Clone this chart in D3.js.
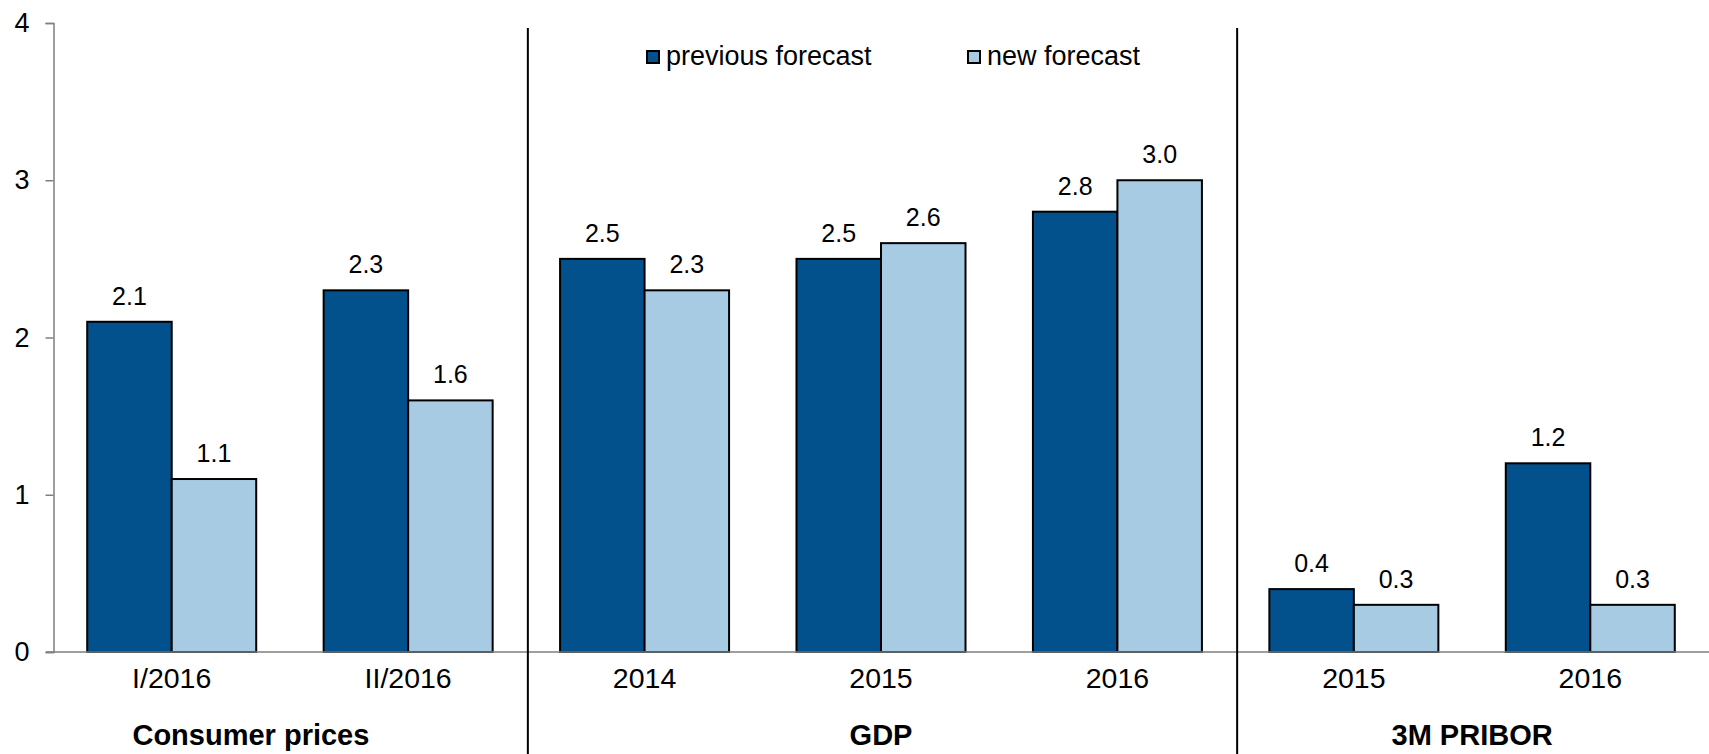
<!DOCTYPE html>
<html>
<head>
<meta charset="utf-8">
<script src="https://cdn.jsdelivr.net/npm/d3@7/dist/d3.min.js"></script>
<style>
  html, body { margin: 0; padding: 0; background: #fff; }
  svg { display: block; font-family: "Liberation Sans", Arial, sans-serif; }
</style>
</head>
<body>
<svg id="chart" width="1709" height="754"></svg>
<script>
// Forecast comparison: consumer prices, GDP and 3M PRIBOR
const categories = ["I/2016", "II/2016", "2014", "2015", "2016", "2015", "2016"];
const previousForecast = [2.1, 2.3, 2.5, 2.5, 2.8, 0.4, 1.2];
const newForecast = [1.1, 1.6, 2.3, 2.6, 3.0, 0.3, 0.3];
const seriesNames = ["previous forecast", "new forecast"];
const groupNames = ["Consumer prices", "GDP", "3M PRIBOR"];
const groupSizes = [2, 3, 2];
const yTicks = [0, 1, 2, 3, 4];

const colors = ["#02518C", "#A6CBE3"];
const svg = d3.select("#chart");

const plotLeft = 53.5, plotRight = 1708.5, plotTop = 23, plotBottom = 652;

const x = d3.scaleBand()
  .domain(d3.range(categories.length))
  .range([plotLeft, plotRight])
  .padding(0);

const y = d3.scaleLinear().domain([0, 4]).range([plotBottom, plotTop]);

const step = x.bandwidth();
const barW = 84.5;
const xs = d3.scaleBand()
  .domain([0, 1])
  .range([step / 2 - barW, step / 2 + barW])
  .padding(0);

const rows = categories.map((c, i) => ({
  i, cat: c, values: [previousForecast[i], newForecast[i]]
}));

// y axis
const yAxis = d3.axisLeft(y).tickValues(yTicks).tickSize(8).tickPadding(16).tickFormat(d3.format("d"));
const yg = svg.append("g").attr("transform", `translate(${plotLeft},0)`).call(yAxis);
yg.select(".domain").attr("stroke", "#7f7f7f").attr("stroke-width", 1.5);
yg.selectAll(".tick line").attr("stroke", "#7f7f7f").attr("stroke-width", 1.5);
yg.selectAll(".tick text").attr("font-size", 27).attr("fill", "#000")
  .attr("font-family", "Liberation Sans, Arial, sans-serif");

// bars
const grp = svg.append("g").selectAll("g").data(rows).join("g")
  .attr("transform", d => `translate(${x(d.i)},0)`);

grp.selectAll("rect").data(d => d.values.map((v, s) => ({ v, s }))).join("rect")
  .attr("x", d => xs(d.s))
  .attr("y", d => y(d.v))
  .attr("width", xs.bandwidth())
  .attr("height", d => y(0) - y(d.v))
  .attr("fill", d => colors[d.s])
  .attr("stroke", "#000")
  .attr("stroke-width", 2);

grp.selectAll("text.val").data(d => d.values.map((v, s) => ({ v, s }))).join("text")
  .attr("class", "val")
  .attr("x", d => xs(d.s) + xs.bandwidth() / 2)
  .attr("y", d => y(d.v) - 17)
  .attr("text-anchor", "middle")
  .attr("font-size", 25)
  .text(d => d3.format(".1f")(d.v));

// x axis baseline
svg.append("line")
  .attr("x1", 46).attr("x2", 1709)
  .attr("y1", y(0)).attr("y2", y(0))
  .attr("stroke", "#7f7f7f").attr("stroke-width", 1.5);

// category labels
svg.append("g").selectAll("text").data(rows).join("text")
  .attr("x", d => x(d.i) + step / 2)
  .attr("y", 688)
  .attr("text-anchor", "middle")
  .attr("font-size", 28.5)
  .text(d => d.cat);

// group separators and group titles
const starts = groupSizes.map((n, g) => d3.sum(groupSizes.slice(0, g)));
const labelShift = [-39, 0, 0];
starts.slice(1).forEach(s => {
  const xv = x(s) + 1.5;
  svg.append("line")
    .attr("x1", xv).attr("x2", xv)
    .attr("y1", 28).attr("y2", 754)
    .attr("stroke", "#000").attr("stroke-width", 2);
});
svg.append("g").selectAll("text").data(groupNames).join("text")
  .attr("x", (d, g) => {
    const a = x(starts[g]) + step / 2;
    const b = x(starts[g] + groupSizes[g] - 1) + step / 2;
    return (a + b) / 2 + labelShift[g];
  })
  .attr("y", 745)
  .attr("text-anchor", "middle")
  .attr("font-size", 29)
  .attr("font-weight", "bold")
  .text(d => d);

// legend
const legendX = [646, 967];
const lg = svg.append("g").selectAll("g").data(seriesNames).join("g")
  .attr("transform", (d, i) => `translate(${legendX[i]},50)`);
lg.append("rect")
  .attr("x", 1).attr("y", 1).attr("width", 12).attr("height", 12)
  .attr("fill", (d, i) => colors[i])
  .attr("stroke", "#000").attr("stroke-width", 2);
lg.append("text")
  .attr("x", 20).attr("y", 15)
  .attr("font-size", 27)
  .text(d => d);
</script>
</body>
</html>
